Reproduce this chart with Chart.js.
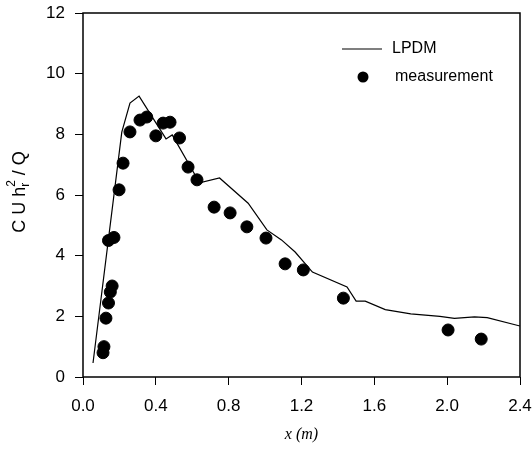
<!DOCTYPE html>
<html>
<head>
<meta charset="utf-8">
<script src="https://cdn.jsdelivr.net/npm/chart.js@4/dist/chart.umd.min.js"></script>
<style>
  html, body { margin: 0; padding: 0; background: #fff; }
</style>
</head>
<body>
<canvas id="chart" width="532" height="458"></canvas>
<script>
// ========================================================================
// Data
// ========================================================================

// LPDM model curve
const lpdmX = [0.055, 0.213, 0.258, 0.308, 0.456, 0.49, 0.64, 0.75, 0.907, 1.01,
               1.09, 1.165, 1.26, 1.45, 1.50, 1.55, 1.66, 1.80, 1.96, 2.04,
               2.15, 2.22, 2.40];
const lpdmY = [0.46, 8.07, 9.03, 9.26, 7.85, 7.98, 6.4, 6.56, 5.73, 4.85,
               4.52, 4.12, 3.46, 2.97, 2.5, 2.5, 2.22, 2.08, 2.0, 1.93,
               1.98, 1.96, 1.68];

// wind tunnel measurements
const measX = [0.11, 0.115, 0.126, 0.14, 0.15, 0.16, 0.14, 0.17, 0.198, 0.22,
               0.258, 0.313, 0.35, 0.40, 0.44, 0.478, 0.53, 0.577, 0.626, 0.72,
               0.808, 0.90, 1.005, 1.11, 1.21, 1.43, 2.005, 2.187];
const measY = [0.8, 1.0, 1.94, 2.44, 2.8, 3.0, 4.5, 4.6, 6.17, 7.05,
               8.08, 8.47, 8.57, 7.95, 8.37, 8.4, 7.88, 6.92, 6.5, 5.6,
               5.41, 4.95, 4.58, 3.73, 3.53, 2.6, 1.55, 1.25];

const seriesNames = ['LPDM', 'measurement'];

// axis ranges
const xMin = 0, xMax = 2.4, xStep = 0.4;
const yMin = 0, yMax = 12, yStep = 2;

const toPoints = (xs, ys) => xs.map((x, i) => ({ x: x, y: ys[i] }));

// ========================================================================
// Frame, legend and y title (sub/superscripts) drawn on top
// ========================================================================

const decorations = {
    id: 'decorations',
    afterDraw(chart) {
        const ctx = chart.ctx;
        const a = chart.chartArea;
        ctx.save();

        // box around the plot
        ctx.strokeStyle = '#000';
        ctx.lineWidth = 1.5;
        ctx.strokeRect(a.left, a.top, a.right - a.left, a.bottom - a.top);

        // legend
        ctx.fillStyle = '#000';
        ctx.font = '16px "Liberation Sans", Arial, sans-serif';
        ctx.textBaseline = 'middle';
        ctx.textAlign = 'left';
        ctx.lineWidth = 1.2;
        ctx.beginPath();
        ctx.moveTo(342, 49);
        ctx.lineTo(382, 49);
        ctx.stroke();
        ctx.fillText(seriesNames[0], 392, 49);
        ctx.beginPath();
        ctx.arc(363, 77, 5.5, 0, Math.PI * 2);
        ctx.fill();
        ctx.fillText(seriesNames[1], 395, 77);

        // y title: C U h_r^2 / Q
        const big = '18px "Liberation Sans", Arial, sans-serif';
        const small = '12px "Liberation Sans", Arial, sans-serif';
        ctx.font = big;
        const w1 = ctx.measureText('C U h').width;
        const w3 = ctx.measureText(' / Q').width;
        ctx.font = small;
        const w2 = Math.max(ctx.measureText('r').width, ctx.measureText('2').width);
        const total = w1 + w2 + w3;

        ctx.translate(19, 192);
        ctx.rotate(-Math.PI / 2);
        ctx.textBaseline = 'alphabetic';
        let x = -total / 2;
        ctx.font = big;
        ctx.fillText('C U h', x, 6);
        x += w1;
        ctx.font = small;
        ctx.fillText('r', x, 10);
        ctx.fillText('2', x, -4);
        x += w2;
        ctx.font = big;
        ctx.fillText(' / Q', x, 6);

        ctx.restore();
    }
};

// ========================================================================
// Chart
// ========================================================================

const tickFont = { family: '"Liberation Sans", Arial, sans-serif', size: 17 };

new Chart(document.getElementById('chart'), {
    type: 'scatter',
    data: {
        datasets: [{
            label: seriesNames[0],
            data: toPoints(lpdmX, lpdmY),
            showLine: true,
            borderColor: '#000',
            borderWidth: 1.2,
            pointRadius: 0,
            tension: 0
        }, {
            label: seriesNames[1],
            data: toPoints(measX, measY),
            showLine: false,
            backgroundColor: '#000',
            borderColor: '#000',
            pointRadius: 6,
            pointHoverRadius: 6
        }]
    },
    options: {
        responsive: false,
        animation: false,
        layout: { padding: { top: 13, right: 12, left: 0, bottom: 0 } },
        plugins: {
            legend: { display: false },
            tooltip: { enabled: false }
        },
        scales: {
            x: {
                type: 'linear',
                min: xMin,
                max: xMax,
                afterFit: function(scale) {
                    // fixed box so the plot lands where the scan has it
                    scale.height = 81;
                    scale.paddingLeft = 0;
                    scale.paddingRight = 0;
                },
                border: { display: false },
                grid: {
                    drawOnChartArea: false,
                    drawTicks: true,
                    tickLength: 8,
                    tickColor: '#000',
                    tickWidth: 1
                },
                ticks: {
                    stepSize: xStep,
                    padding: 11,
                    color: '#000',
                    font: tickFont,
                    maxRotation: 0,
                    callback: function(value) { return Number(value).toFixed(1); }
                },
                title: {
                    display: true,
                    text: 'x (m)',
                    color: '#000',
                    font: { family: '"Liberation Serif", "Times New Roman", serif', size: 16, style: 'italic' },
                    padding: { top: 0, bottom: 14 }
                }
            },
            y: {
                type: 'linear',
                min: yMin,
                max: yMax,
                afterFit: function(scale) {
                    scale.width = 83;
                    scale.paddingTop = 0;
                    scale.paddingBottom = 0;
                },
                border: { display: false },
                grid: {
                    drawOnChartArea: false,
                    drawTicks: true,
                    tickLength: 8,
                    tickColor: '#000',
                    tickWidth: 1
                },
                ticks: {
                    stepSize: yStep,
                    padding: 10,
                    color: '#000',
                    font: tickFont
                }
            }
        }
    },
    plugins: [decorations]
});
</script>
</body>
</html>
